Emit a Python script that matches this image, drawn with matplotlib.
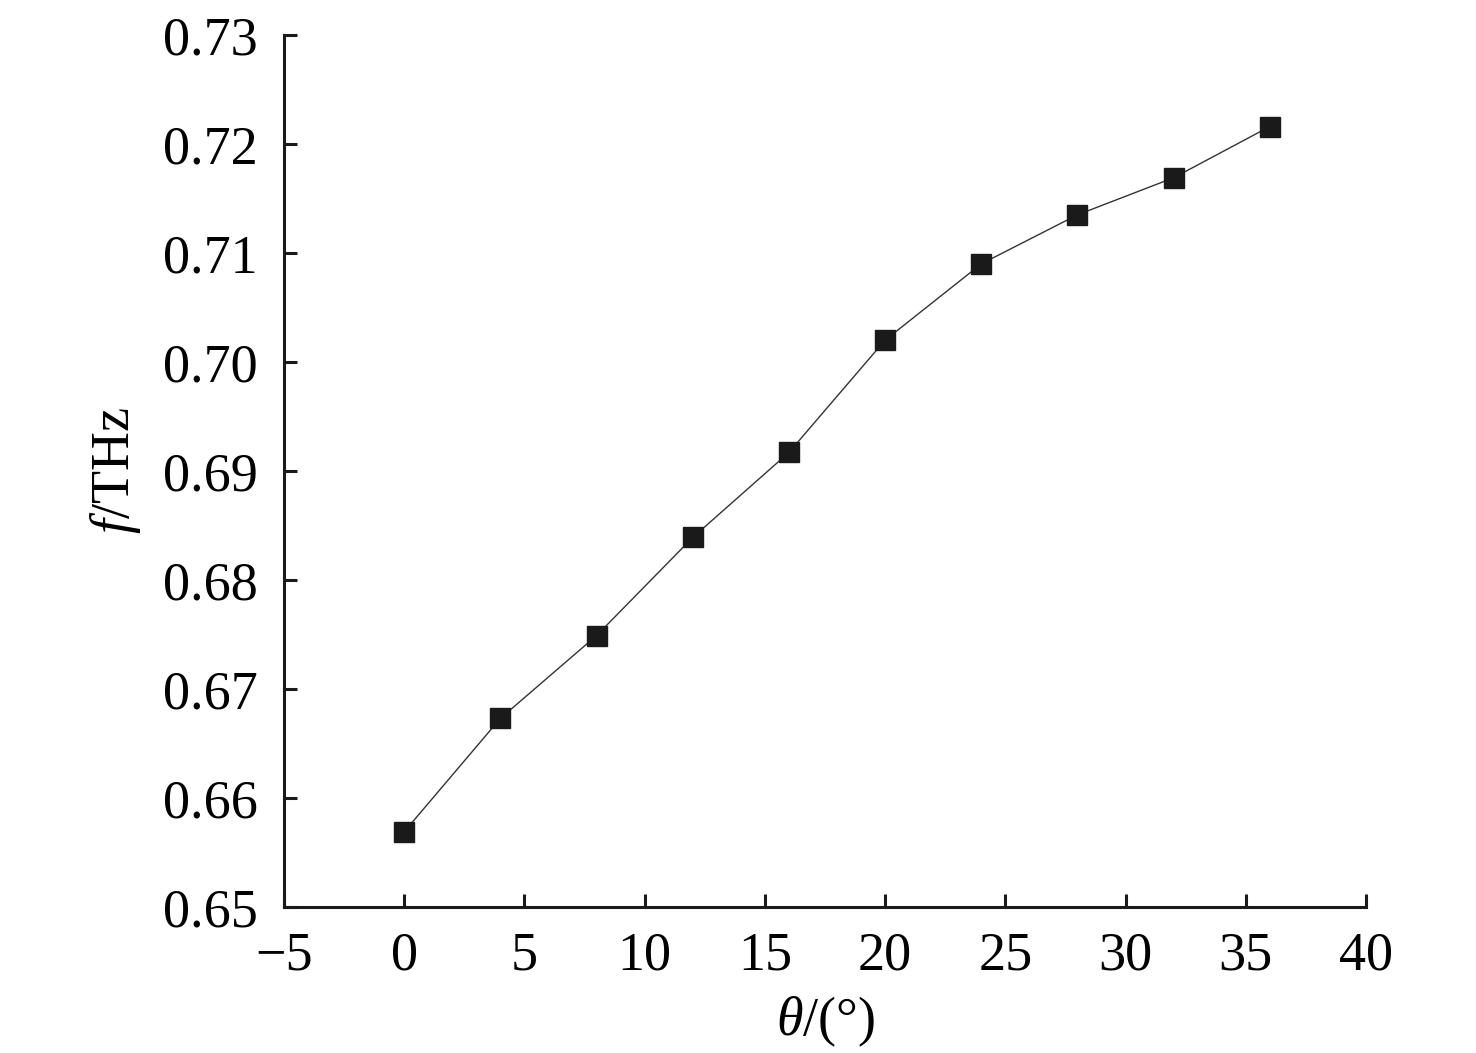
import matplotlib
matplotlib.use("Agg")
import matplotlib.pyplot as plt

theta = [0, 4, 8, 12, 16, 20, 24, 28, 32, 36]
freq = [0.6569, 0.6673, 0.6749, 0.6839, 0.6917, 0.7020, 0.7090, 0.7135, 0.7169, 0.7216]
xticks = [-5, 0, 5, 10, 15, 20, 25, 30, 35, 40]
yticks = [0.65, 0.66, 0.67, 0.68, 0.69, 0.70, 0.71, 0.72, 0.73]

plt.rcParams['font.family'] = ['Liberation Serif', 'DejaVu Serif']
plt.rcParams['mathtext.fontset'] = 'custom'
plt.rcParams['mathtext.rm'] = 'Liberation Serif'
plt.rcParams['mathtext.it'] = 'Liberation Serif:italic'

fig = plt.figure(figsize=(14.76, 10.53), dpi=100)
ax = fig.add_axes([0.1924, 0.1387, 0.7331, 0.8281])
ax.plot(theta, freq, color='#333333', lw=1.0, marker='s', markersize=14,
        markerfacecolor='#1a1a1a', markeredgecolor='#1a1a1a')
ax.set_xlim(-5, 40)
ax.set_ylim(0.65, 0.73)
ax.set_xticks(xticks)
ax.set_yticks(yticks)
ax.set_yticklabels([f"{v:.2f}" for v in yticks])
ax.set_xticklabels([f"\u2212{abs(v)}" if v < 0 else str(v) for v in xticks])
for s in ['top', 'right']:
    ax.spines[s].set_visible(False)
for s in ['left', 'bottom']:
    ax.spines[s].set_linewidth(2.2)
    ax.spines[s].set_color('#1a1a1a')
ax.tick_params(direction='in', length=9.5, width=2.2, labelsize=39, color='#1a1a1a')
ax.tick_params(axis='y', pad=19)
ax.tick_params(axis='x', pad=17)
ax.set_xlabel(r'$\mathit{\theta}$/(°)', fontsize=39, labelpad=10)
ax.set_ylabel(r'$\mathit{f}$/THz', fontsize=39, labelpad=14)
fig.savefig('out.png', dpi=100)
